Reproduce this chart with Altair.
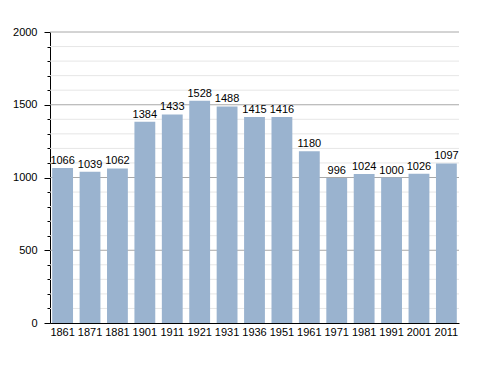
import altair as alt
import pandas as pd

years = ["1861", "1871", "1881", "1901", "1911", "1921", "1931", "1936", "1951", "1961", "1971", "1981", "1991", "2001", "2011"]
values = [1066, 1039, 1062, 1384, 1433, 1528, 1488, 1415, 1416, 1180, 996, 1024, 1000, 1026, 1097]
y_ticks = list(range(0, 2001, 100))

df = pd.DataFrame({"year": years, "value": values})
grid_df = pd.DataFrame({"v": y_ticks[1:], "major": [t % 500 == 0 for t in y_ticks[1:]]})

FONT = "Liberation Sans"

x_axis = alt.Axis(labelAngle=0, ticks=False, domainColor="black", labelColor="black",
                  labelFont=FONT, labelFontSize=11, labelPadding=3)
y_axis = alt.Axis(values=y_ticks, format="d",
                  labelExpr="datum.value % 500 === 0 ? datum.label : ''",
                  grid=False,
                  tickSize={"condition": {"test": "datum.value % 500 === 0", "value": 6}, "value": 3},
                  tickColor="black", domainColor="black", labelColor="black",
                  labelFont=FONT, labelFontSize=11, labelPadding=7)
x_scale = alt.Scale(paddingInner=0.24, paddingOuter=0.08)
y_scale = alt.Scale(domain=[0, 2000], nice=False)

grid = alt.Chart(grid_df).mark_rule(strokeWidth=1).encode(
    y=alt.Y("v:Q", scale=y_scale, axis=y_axis, title=None),
    color=alt.Color("major:N", scale=alt.Scale(domain=[True, False], range=["#a8a8a8", "#e6e6e6"]), legend=None),
)

base = alt.Chart(df)

bars = base.mark_bar(color="#9ab3cf").encode(
    x=alt.X("year:N", sort=years, title=None, scale=x_scale, axis=x_axis),
    y=alt.Y("value:Q", title=None, scale=y_scale, axis=y_axis),
)

labels = base.mark_text(baseline="bottom", dy=-2, font=FONT, fontSize=11, color="black").encode(
    x=alt.X("year:N", sort=years, title=None, scale=x_scale, axis=x_axis),
    y=alt.Y("value:Q", title=None, scale=y_scale, axis=y_axis),
    text=alt.Text("value:Q"),
)

chart = (grid + bars + labels).properties(
    width=409, height=291,
    autosize=alt.AutoSizeParams(type="none"),
    padding={"left": 42, "top": 24, "right": 21, "bottom": 42},
).configure_view(stroke=None)

chart.save("out.html", embed_options={"renderer": "svg", "actions": False})
